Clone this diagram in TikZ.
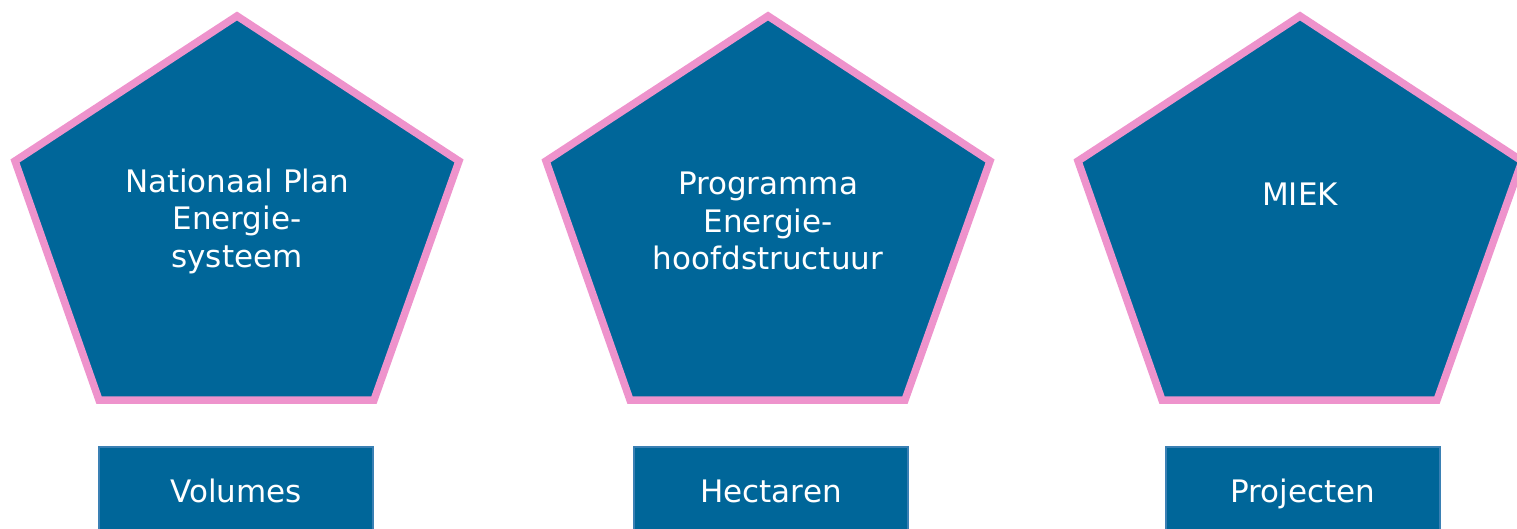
\documentclass[tikz,border=0pt]{standalone}
\usepackage{fontspec}
\setmainfont{DejaVu Sans}
\definecolor{fillblue}{HTML}{006699}
\definecolor{pinkedge}{HTML}{EE93CC}
\definecolor{boxedge}{HTML}{3A80B4}
\tikzset{
  penta/.style={fill=fillblue, draw=pinkedge, line width=7.5pt, line join=miter},
  pentalabel/.style={text=white, font=\fontsize{31}{37.5}\selectfont, align=center, inner sep=0pt},
  boxlabel/.style={fill=fillblue, draw=boxedge, line width=1.2pt, minimum width=274pt, minimum height=88pt,
     text=white, font=\fontsize{31}{37.5}\selectfont, text height=23pt, text depth=0pt, inner sep=0pt}
}
\begin{document}
\begin{tikzpicture}[x=1pt,y=-1pt]
\useasboundingbox (0,0) rectangle (1517,529);
\clip (0,0) rectangle (1517,529);
\foreach \dx in {0,531,1063}{
  \draw[penta] (237+\dx,16) -- (459+\dx,161) -- (374+\dx,400) -- (99+\dx,400) -- (15+\dx,161) -- cycle;
}
\node[pentalabel] (p1) at (237,221) {Nationaal Plan\\Energie-\\systeem};
\node[pentalabel] (p2) at (768,221) {Programma\\Energie-\\hoofdstructuur};
\node[pentalabel] (p3) at (1300,194) {MIEK};
\node[boxlabel] (b1) at (236,491) {Volumes};
\node[boxlabel] (b2) at (771,491) {Hectaren};
\node[boxlabel] (b3) at (1303,491) {Projecten};
\end{tikzpicture}
\end{document}
